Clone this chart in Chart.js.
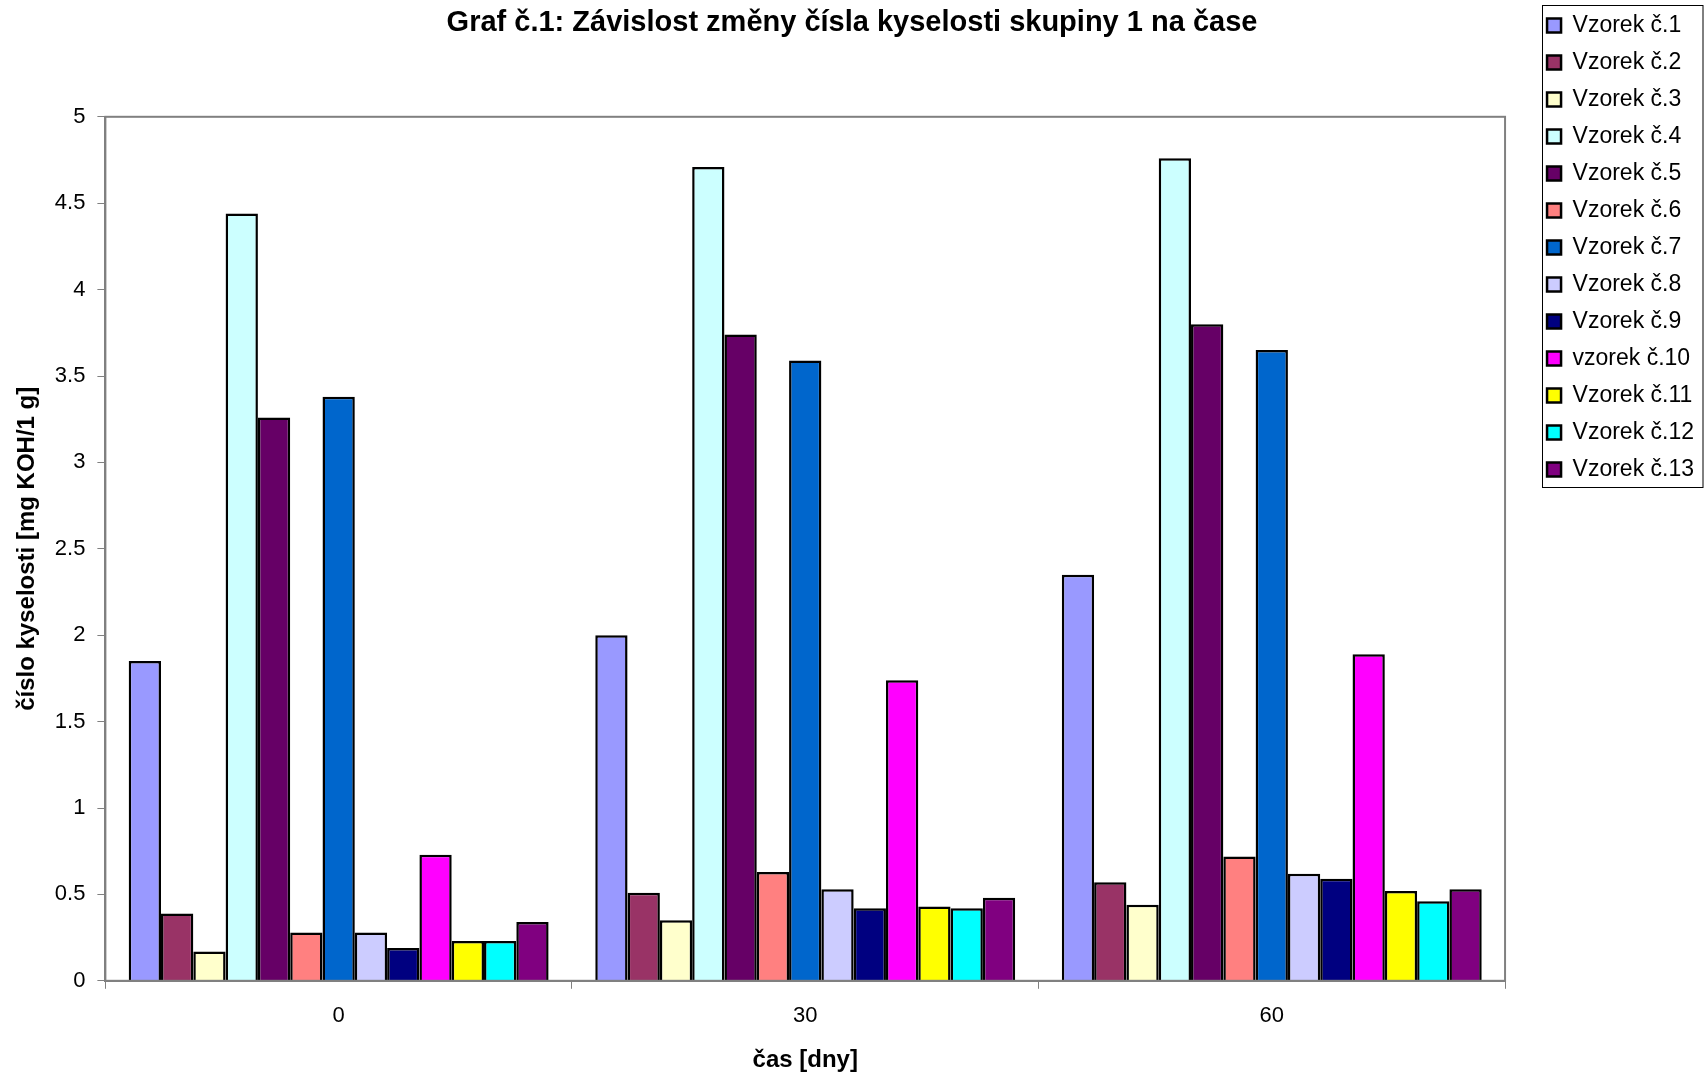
<!DOCTYPE html>
<html>
<head>
<meta charset="utf-8">
<title>Graf č.1</title>
<script src="https://cdn.jsdelivr.net/npm/chart.js@4.4.1/dist/chart.umd.min.js"></script>
<style>
  html, body { margin: 0; padding: 0; background: #fff; }
  canvas { display: block; }
</style>
</head>
<body>
<canvas id="myChart" width="1704" height="1077"></canvas>
<script>
// days
const labels = ['0', '30', '60'];

const sampleNames = ['Vzorek č.1', 'Vzorek č.2', 'Vzorek č.3', 'Vzorek č.4', 'Vzorek č.5',
  'Vzorek č.6', 'Vzorek č.7', 'Vzorek č.8', 'Vzorek č.9', 'vzorek č.10',
  'Vzorek č.11', 'Vzorek č.12', 'Vzorek č.13'];

const sampleColors = ['#9999FF', '#993366', '#FFFFCC', '#CCFFFF', '#660066',
  '#FF8080', '#0066CC', '#CCCCFF', '#000080', '#FF00FF',
  '#FFFF00', '#00FFFF', '#800080'];

// values read per sample for 0, 30, 60 days
const vzorek1 = [1.85, 2.00, 2.35];
const vzorek2 = [0.39, 0.51, 0.57];
const vzorek3 = [0.17, 0.35, 0.44];
const vzorek4 = [4.44, 4.71, 4.76];
const vzorek5 = [3.26, 3.74, 3.80];
const vzorek6 = [0.28, 0.63, 0.72];
const vzorek7 = [3.38, 3.59, 3.65];
const vzorek8 = [0.28, 0.53, 0.62];
const vzorek9 = [0.19, 0.42, 0.59];
const vzorek10 = [0.73, 1.74, 1.89];
const vzorek11 = [0.23, 0.43, 0.52];
const vzorek12 = [0.23, 0.42, 0.46];
const vzorek13 = [0.34, 0.48, 0.53];

const allValues = [vzorek1, vzorek2, vzorek3, vzorek4, vzorek5, vzorek6, vzorek7,
  vzorek8, vzorek9, vzorek10, vzorek11, vzorek12, vzorek13];

const FONT = "'Liberation Sans', Arial, sans-serif";

// frame round the plot + border round the legend
const framePlugin = {
  id: 'frame',
  afterDraw(chart) {
    const ctx = chart.ctx;
    const a = chart.chartArea;
    ctx.save();
    ctx.strokeStyle = '#808080';
    ctx.lineWidth = 2;
    ctx.strokeRect(a.left, a.top, a.right - a.left, a.bottom - a.top);

    const lg = chart.legend;
    if (lg && lg.legendHitBoxes.length) {
      const boxes = lg.legendHitBoxes;
      let minX = Infinity;
      boxes.forEach(b => { minX = Math.min(minX, b.left); });
      const top = 5;
      const last = boxes[boxes.length - 1];
      const bottom = last.top + last.height + 6;
      const left = Math.round(minX) - 4.5;
      ctx.strokeStyle = '#000';
      ctx.lineWidth = 1;
      ctx.strokeRect(left, top + 0.5, chart.width - 1 - left, bottom - top);
    }
    ctx.restore();
  }
};

window.addEventListener('load', function () {
  const ctx = document.getElementById('myChart').getContext('2d');
  new Chart(ctx, {
    type: 'bar',
    data: {
      labels: labels,
      datasets: allValues.map((vals, i) => ({
        label: sampleNames[i],
        data: vals,
        backgroundColor: sampleColors[i],
        borderColor: '#000',
        borderWidth: 2.5,
        borderSkipped: 'bottom',
        categoryPercentage: 0.9,
        barPercentage: 1.0
      }))
    },
    options: {
      responsive: false,
      animation: false,
      layout: { padding: { left: 0, right: 0, top: 0, bottom: 2 } },
      plugins: {
        title: {
          display: true,
          text: 'Graf č.1: Závislost změny čísla kyselosti skupiny 1 na čase',
          color: '#000',
          font: { family: FONT, size: 29, weight: 'bold' },
          padding: { top: 6, bottom: 76 }
        },
        legend: {
          position: 'right',
          align: 'start',
          weight: 3000,
          labels: {
            color: '#000',
            font: { family: FONT, size: 23 },
            boxWidth: 14,
            boxHeight: 14,
            padding: 14
          }
        },
        tooltip: { enabled: false }
      },
      scales: {
        x: {
          grid: { display: true, drawOnChartArea: false, offset: true, color: '#808080', tickLength: 8 },
          border: { color: '#808080', width: 2 },
          ticks: { color: '#000', font: { family: FONT, size: 22 }, padding: 14 },
          title: {
            display: true,
            text: 'čas [dny]',
            color: '#000',
            font: { family: FONT, size: 24, weight: 'bold' },
            padding: { top: 3, bottom: 0 }
          }
        },
        y: {
          min: 0,
          max: 5,
          grid: { display: true, drawOnChartArea: false, color: '#808080', tickLength: 8 },
          border: { color: '#808080', width: 2 },
          ticks: {
            stepSize: 0.5,
            color: '#000',
            font: { family: FONT, size: 22 },
            padding: 12,
            callback: v => String(v)
          },
          title: {
            display: true,
            text: 'číslo kyselosti [mg KOH/1 g]',
            color: '#000',
            font: { family: FONT, size: 24, weight: 'bold' },
            padding: { top: 13, bottom: 1 }
          }
        },
        // empty strip between plot and legend
        gap: {
          type: 'linear',
          position: 'right',
          display: true,
          grid: { display: false },
          border: { display: false },
          ticks: { display: false },
          afterFit: s => { s.width = 28; }
        }
      }
    },
    plugins: [framePlugin]
  });
});
</script>
</body>
</html>
